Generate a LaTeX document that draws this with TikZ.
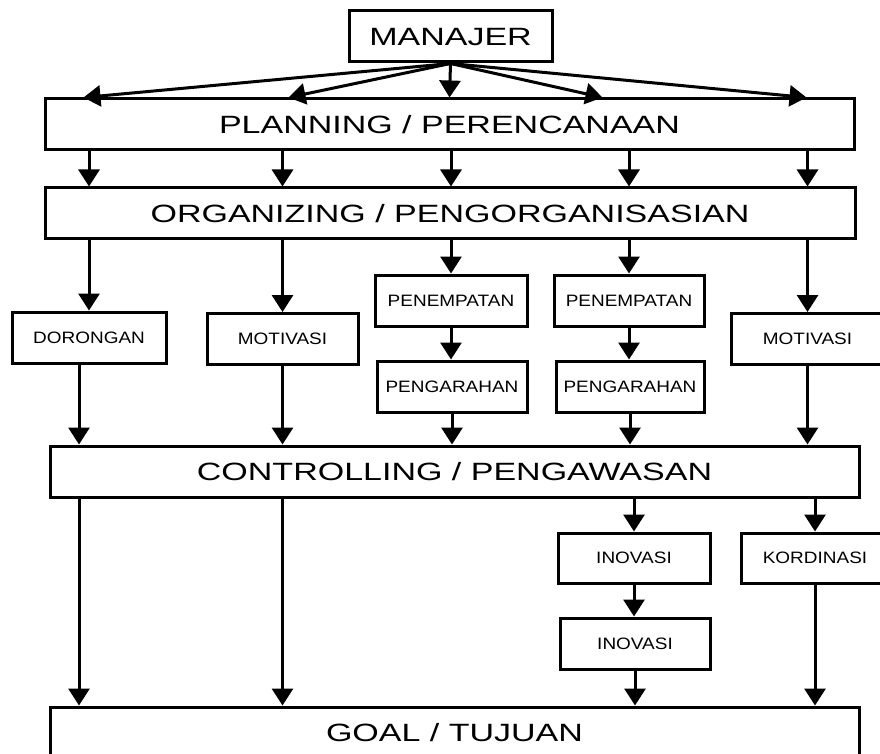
\documentclass[tikz,border=0pt]{standalone}
\usepackage{fontspec}
\usetikzlibrary{arrows.meta}
\newfontfamily\widesans[FakeStretch=1.36]{Liberation Sans}
\newfontfamily\narrowsans[FakeStretch=1.15]{Liberation Sans}

\tikzset{
	mainbox/.style={draw, line width=3pt, inner sep=0pt, minimum height=51pt, text depth=0pt, font=\widesans\fontsize{25}{30}\selectfont},
	subbox/.style={draw, line width=3pt, inner sep=0pt, minimum height=51pt, minimum width=152pt, text depth=0pt, font=\narrowsans\fontsize{16.5}{20}\selectfont},
	arr/.style={line width=3pt, -{Triangle[width=21pt,length=17pt]}}
}

\begin{document}
\begin{tikzpicture}[x=1pt, y=-1pt]
		%%%%% START %%%%%
		
		\useasboundingbox (0, 0) rectangle (880, 754);
		\fill[white] (0, 0) rectangle (880, 754);
		
		\node[mainbox, minimum width=203pt] (man) at (450.5, 36.5) {MANAJER};
		\node[mainbox, minimum width=809pt] (plan) at (449.5, 124.5) {PLANNING / PERENCANAAN};
		\node[mainbox, minimum width=810pt, minimum height=50pt] (org) at (450, 213) {ORGANIZING / PENGORGANISASIAN};
		
		\node[subbox, minimum width=154pt] (dor) at (89, 337.5) {DORONGAN};
		\node[subbox, minimum width=151pt] (mot) at (282.5, 339) {MOTIVASI};
		\node[subbox] (pena) at (451, 300.5) {PENEMPATAN};
		\node[subbox, minimum width=150pt] (penga) at (452, 386.5) {PENGARAHAN};
		\node[subbox, minimum width=150pt] (penb) at (629, 300.5) {PENEMPATAN};
		\node[subbox, minimum width=148pt] (pengb) at (630, 386.5) {PENGARAHAN};
		\node[subbox, minimum width=153pt] (motb) at (807.5, 339) {MOTIVASI};
		
		\node[mainbox, minimum width=809pt] (ctl) at (454.5, 471.5) {CONTROLLING / PENGAWASAN};
		
		\node[subbox, minimum height=50pt] (inova) at (634, 558) {INOVASI};
		\node[subbox, minimum width=150pt] (inovb) at (635, 643.5) {INOVASI};
		\node[subbox, minimum width=148pt, minimum height=50pt] (kord) at (815, 558) {KORDINASI};
		
		\node[mainbox, minimum width=809pt] (goal) at (454.5, 732.5) {GOAL / TUJUAN};
		
		% manajer -> planning
		\draw[arr] (man.south) -- ([xshift=-366pt]plan.north);
		\draw[arr] (man.south) -- ([xshift=-161pt]plan.north);
		\draw[arr] (man.south) -- (plan.north);
		\draw[arr] (man.south) -- ([xshift=153pt]plan.north);
		\draw[arr] (man.south) -- ([xshift=357pt]plan.north);
		
		% planning -> organizing
		\draw[arr] (plan.south -| dor.north) -- (org.north -| dor.north);
		\draw[arr] (plan.south -| mot.north) -- (org.north -| mot.north);
		\draw[arr] (plan.south -| pena.north) -- (org.north -| pena.north);
		\draw[arr] (plan.south -| penb.north) -- (org.north -| penb.north);
		\draw[arr] (plan.south -| motb.north) -- (org.north -| motb.north);
		
		% organizing -> bawahnya
		\draw[arr] (org.south -| dor.north) -- (dor.north);
		\draw[arr] (org.south -| mot.north) -- (mot.north);
		\draw[arr] (org.south -| pena.north) -- (pena.north);
		\draw[arr] (org.south -| penb.north) -- (penb.north);
		\draw[arr] (org.south -| motb.north) -- (motb.north);
		
		\draw[arr] (pena.south) -- (pena.south |- penga.north);
		\draw[arr] (penb.south) -- (penb.south |- pengb.north);
		
		% -> controlling
		\coordinate (dorline) at ([xshift=-10pt]dor.south);
		\draw[arr] (dorline) -- (dorline |- ctl.north);
		\draw[arr] (mot.south) -- (mot.south |- ctl.north);
		\draw[arr] (penga.south) -- (penga.south |- ctl.north);
		\draw[arr] (pengb.south) -- (pengb.south |- ctl.north);
		\draw[arr] (motb.south) -- (motb.south |- ctl.north);
		
		% controlling -> goal
		\draw[arr] (ctl.south -| dorline) -- (goal.north -| dorline);
		\draw[arr] (ctl.south -| mot.south) -- (goal.north -| mot.south);
		\draw[arr] (ctl.south -| inova.north) -- (inova.north);
		\draw[arr] (inova.south) -- (inova.south |- inovb.north);
		\draw[arr] (inovb.south) -- (inovb.south |- goal.north);
		\draw[arr] (ctl.south -| kord.north) -- (kord.north);
		\draw[arr] (kord.south) -- (kord.south |- goal.north);
		
		%%%%% END %%%%%
	\end{tikzpicture}
\end{document}
